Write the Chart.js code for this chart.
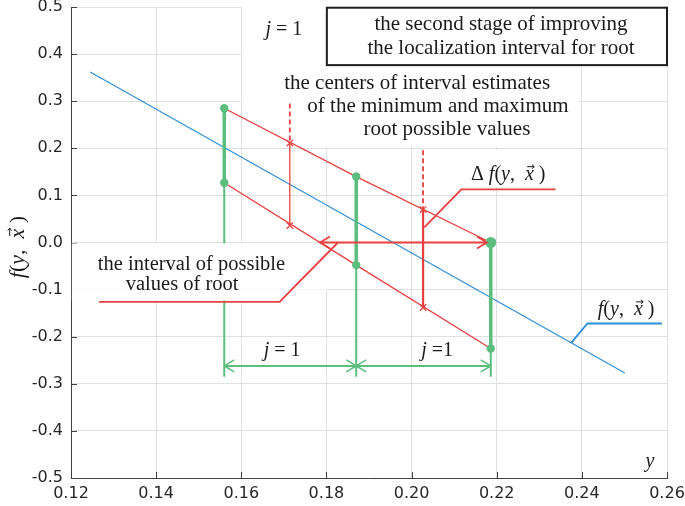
<!DOCTYPE html>
<html>
<head>
<meta charset="utf-8">
<script src="https://cdn.jsdelivr.net/npm/chart.js@4.4.1/dist/chart.umd.min.js"></script>
<style>
  html, body { margin: 0; padding: 0; background: #fff; }
</style>
</head>
<body>
<canvas id="chart" width="685" height="506"></canvas>
<script>
// f(y, x) straight line
const fX = [0.1245, 0.2501];
const fY = [0.362, -0.277];

// the three steps: upper and lower bound lines
const stepX = [0.156, 0.187, 0.2186];
const upperY = [0.285, 0.140, 0.000];
const lowerY = [0.127, -0.048, -0.225];
const baseY = -0.285;   // bottom of green drop lines
const dimY = -0.262;    // green dimension line

// centers of interval estimates
const centerX = [0.1714, 0.2027];
const centerTopY = [0.295, 0.196];
const centerUpY = [0.211, 0.070];
const centerLoY = [0.036, -0.138];

// red double arrow on the zero line
const arrowX = [0.1785, 0.2177];
const arrowY = [0.0, 0.0];

// leader lines
const leadIntervalX = [0.1266, 0.1690, 0.1827];
const leadIntervalY = [-0.126, -0.126, 0.0];
const leadDeltaX = [0.2030, 0.2117, 0.2338];
const leadDeltaY = [0.032, 0.113, 0.113];
const leadFX = [0.2375, 0.2413, 0.2588];
const leadFY = [-0.213, -0.172, -0.172];

const xMin = 0.12, xMax = 0.26, xStep = 0.02;
const yMin = -0.5, yMax = 0.5, yStep = 0.1;

const RED = '#e8403f';
const GREEN = '#5bbd7e';
const BLUE = '#2f8fd5';
const serif = '"Liberation Serif", "Times New Roman", serif';

function pts(xs, ys) {
    return xs.map((x, i) => ({ x: x, y: ys[i] }));
}

function line(data, color, width, extra) {
    return Object.assign({
        data: data,
        showLine: true,
        borderColor: color,
        backgroundColor: color,
        borderWidth: width,
        pointRadius: 0,
        tension: 0
    }, extra || {});
}

const datasets = [];
// green dots (on top)
datasets.push({
    data: pts(stepX.concat(stepX), upperY.concat(lowerY)),
    showLine: false,
    backgroundColor: GREEN,
    borderColor: GREEN,
    pointRadius: ctx => ctx.dataIndex === 2 ? 5.5 : 4.2,
    pointBorderWidth: 0
});
// red zero-line double arrow
datasets.push(line(pts(arrowX, arrowY), RED, 2.2, { heads: true }));
// thick green intervals
stepX.forEach((x, i) => {
    datasets.push(line(pts([x, x], [upperY[i], lowerY[i]]), GREEN, 3.5));
});
// centers: solid part with x markers, dashed part above
centerX.forEach((x, i) => {
    datasets.push(line(pts([x, x], [centerUpY[i], centerLoY[i]]), RED, i === 0 ? 1.3 : 2.2, {
        pointRadius: 4.5, pointStyle: 'crossRot', pointBorderWidth: 1.3, pointBorderColor: RED
    }));
    datasets.push(line(pts([x, x], [centerTopY[i], centerUpY[i]]), RED, 1.8, { borderDash: [5, 3] }));
});
// bound lines
datasets.push(line(pts(stepX, upperY), RED, 1.3));
datasets.push(line(pts(stepX, lowerY), RED, 1.3));
// f(y, x)
datasets.push(line(pts(fX, fY), BLUE, 1.2));
// leaders
datasets.push(line(pts(leadIntervalX, leadIntervalY), RED, 1.8));
datasets.push(line(pts(leadDeltaX, leadDeltaY), RED, 1.8));
datasets.push(line(pts(leadFX, leadFY), BLUE, 1.8));
// dimension line
datasets.push(line(pts([stepX[0], stepX[1]], [dimY, dimY]), GREEN, 2, { heads: true }));
datasets.push(line(pts([stepX[1], stepX[2]], [dimY, dimY]), GREEN, 2, { heads: true }));
// thin green drop lines (drawn first, text box goes over them)
stepX.forEach((x, i) => {
    datasets.push(line(pts([x, x], [lowerY[i], baseY]), GREEN, 2, { boxAfter: i === 0 }));
});

// text annotations, positioned in data units
const j1 = [{ t: 'j', it: true }, { t: ' = 1' }];
const fvec = [{ t: 'f', it: true }, { t: '(' }, { t: 'y', it: true }, { t: ',  ' }, { t: 'x', it: true, vec: true }, { t: ' )' }];
const notes = [
    { segs: j1, x: 0.170, y: 0.455, size: 20 },
    { segs: [{ t: 'the second stage of improving' }], x: 0.2210, y: 0.466, size: 21 },
    { segs: [{ t: 'the localization interval for root' }], x: 0.2210, y: 0.415, size: 21 },
    { segs: [{ t: 'the centers of interval estimates' }], x: 0.2013, y: 0.340, size: 21 },
    { segs: [{ t: 'of the minimum and maximum' }], x: 0.2062, y: 0.291, size: 21 },
    { segs: [{ t: 'root possible values' }], x: 0.2083, y: 0.243, size: 21 },
    { segs: [{ t: '\u0394 ' }].concat(fvec), x: 0.2227, y: 0.147, size: 20 },
    { segs: fvec, x: 0.2504, y: -0.140, size: 20 },
    { segs: [{ t: 'the interval of possible' }], x: 0.1483, y: -0.044, size: 20.5 },
    { segs: [{ t: 'values of root' }], x: 0.1461, y: -0.087, size: 20.5 },
    { segs: j1, x: 0.1696, y: -0.226, size: 20 },
    { segs: [{ t: 'j', it: true }, { t: ' =1' }], x: 0.2060, y: -0.226, size: 20 },
    { segs: [{ t: 'y', it: true }], x: 0.2560, y: -0.462, size: 20 }
];
const underBoxes = [
    { x0: 0.1602, x1: 0.2391, y0: 0.5, y1: 0.204 },
    { x0: 0.2115, x1: 0.2337, y0: 0.197, y1: 0.118 }
];
const titleBox = { x0: 0.1801, x1: 0.26, y0: 0.4985, y1: 0.3766 };
const intervalBoxes = [
    { x0: 0.1202, x1: 0.1801, y0: -0.002, y1: -0.100 },
    { x0: 0.1202, x1: 0.1685, y0: -0.100, y1: -0.123 }
];

function fillBox(chart, b) {
    const sx = chart.scales.x, sy = chart.scales.y;
    const x0 = sx.getPixelForValue(b.x0), x1 = sx.getPixelForValue(b.x1);
    const y0 = sy.getPixelForValue(b.y0), y1 = sy.getPixelForValue(b.y1);
    chart.ctx.fillStyle = '#fff';
    chart.ctx.fillRect(x0, y0, x1 - x0, y1 - y0);
    return [x0, y0, x1 - x0, y1 - y0];
}

function drawRich(ctx, segs, cx, cy, size, color) {
    let total = 0;
    const widths = segs.map(s => {
        ctx.font = (s.it ? 'italic ' : '') + size + 'px ' + serif;
        const w = ctx.measureText(s.t).width;
        total += w;
        return w;
    });
    let x = cx - total / 2;
    const base = cy + size * 0.33;
    ctx.fillStyle = color;
    ctx.strokeStyle = color;
    ctx.textAlign = 'left';
    ctx.textBaseline = 'alphabetic';
    segs.forEach((s, i) => {
        ctx.font = (s.it ? 'italic ' : '') + size + 'px ' + serif;
        ctx.fillText(s.t, x, base);
        if (s.vec) {
            const w = widths[i], ay = base - size * 0.66;
            ctx.lineWidth = 1;
            ctx.beginPath();
            ctx.moveTo(x + w * 0.25, ay);
            ctx.lineTo(x + w * 1.05, ay);
            ctx.moveTo(x + w * 0.8, ay - 2);
            ctx.lineTo(x + w * 1.05, ay);
            ctx.lineTo(x + w * 0.8, ay + 2);
            ctx.stroke();
        }
        x += widths[i];
    });
}

function drawHead(ctx, tip, from, len, half) {
    const dx = tip.x - from.x, dy = tip.y - from.y;
    const d = Math.hypot(dx, dy) || 1;
    const ux = dx / d, uy = dy / d;
    ctx.beginPath();
    ctx.moveTo(tip.x - ux * len - uy * half, tip.y - uy * len + ux * half);
    ctx.lineTo(tip.x, tip.y);
    ctx.lineTo(tip.x - ux * len + uy * half, tip.y - uy * len - ux * half);
    ctx.stroke();
}

const decorPlugin = {
    id: 'decor',
    beforeDatasetsDraw(chart) {
        const ctx = chart.ctx, a = chart.chartArea;
        const sx = chart.scales.x, sy = chart.scales.y;
        ctx.save();
        underBoxes.forEach(b => fillBox(chart, b));
        const r = fillBox(chart, titleBox);
        ctx.strokeStyle = '#1e1e1e';
        ctx.lineWidth = 2;
        ctx.strokeRect(r[0], r[1], r[2], r[3]);
        // inward ticks
        ctx.strokeStyle = '#404040';
        ctx.lineWidth = 1;
        ctx.beginPath();
        sy.ticks.forEach(t => {
            const p = Math.round(sy.getPixelForValue(t.value)) + 0.5;
            ctx.moveTo(a.left, p);
            ctx.lineTo(a.left + 6, p);
        });
        sx.ticks.forEach(t => {
            const p = Math.round(sx.getPixelForValue(t.value)) + 0.5;
            ctx.moveTo(p, a.bottom);
            ctx.lineTo(p, a.bottom - 6);
        });
        ctx.stroke();
        ctx.restore();
    },
    afterDatasetDraw(chart, args) {
        const ds = chart.data.datasets[args.index];
        if (ds.boxAfter) {
            chart.ctx.save();
            intervalBoxes.forEach(b => fillBox(chart, b));
            chart.ctx.restore();
        }
    },
    afterDatasetsDraw(chart) {
        const ctx = chart.ctx;
        const sx = chart.scales.x, sy = chart.scales.y;
        ctx.save();
        chart.data.datasets.forEach((ds, i) => {
            if (!ds.heads) return;
            const p = chart.getDatasetMeta(i).data;
            ctx.strokeStyle = ds.borderColor;
            ctx.lineWidth = ds.borderWidth * 0.8;
            drawHead(ctx, p[0], p[1], 10, 6);
            drawHead(ctx, p[p.length - 1], p[p.length - 2], 10, 6);
        });
        notes.forEach(n => {
            drawRich(ctx, n.segs, sx.getPixelForValue(n.x), sy.getPixelForValue(n.y), n.size, '#1a1a1a');
        });
        // y axis title
        ctx.translate(17, 247);
        ctx.rotate(-Math.PI / 2);
        drawRich(ctx, fvec, 0, 0, 22, '#1a1a1a');
        ctx.restore();
    }
};

new Chart(document.getElementById('chart'), {
    type: 'scatter',
    data: { datasets: datasets },
    plugins: [decorPlugin],
    options: {
        responsive: false,
        animation: false,
        layout: { padding: { top: 7, right: 18, left: 0, bottom: 0 } },
        plugins: { legend: { display: false }, tooltip: { enabled: false } },
        elements: { point: { radius: 0, hoverRadius: 0 } },
        scales: {
            x: {
                type: 'linear',
                min: xMin,
                max: xMax,
                ticks: {
                    stepSize: xStep,
                    padding: 6,
                    color: '#262626',
                    font: { family: '"DejaVu Sans", sans-serif', size: 16 },
                    callback: v => v.toFixed(2)
                },
                grid: { color: '#e0e0e0', drawTicks: false },
                border: { color: '#404040', width: 1 },
                afterFit: s => { s.height = 28; s.paddingLeft = 0; s.paddingRight = 0; }
            },
            y: {
                type: 'linear',
                min: yMin,
                max: yMax,
                ticks: {
                    stepSize: yStep,
                    padding: 8,
                    color: '#262626',
                    font: { family: '"DejaVu Sans", sans-serif', size: 16 },
                    callback: v => v.toFixed(1)
                },
                grid: { color: '#e0e0e0', drawTicks: false },
                border: { color: '#404040', width: 1 },
                afterFit: s => { s.width = 71; s.paddingTop = 0; s.paddingBottom = 0; }
            }
        }
    }
});
</script>
</body>
</html>
